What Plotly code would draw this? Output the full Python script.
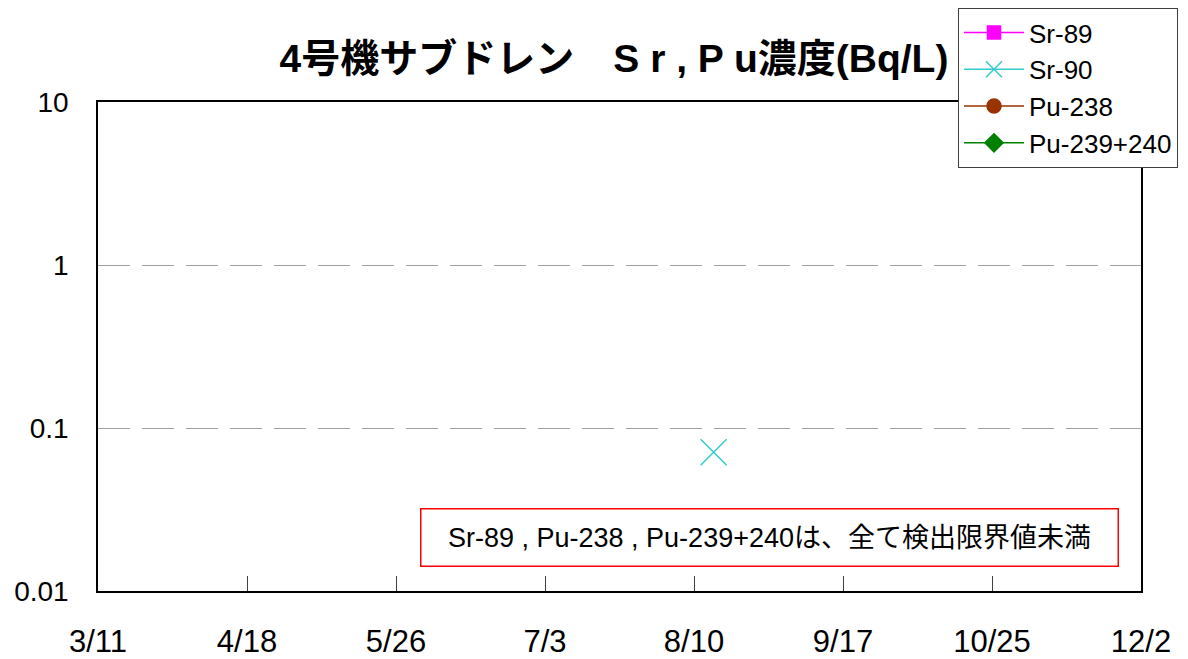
import plotly.graph_objects as go

# data (Bq/L); Sr-89 and Pu isotopes all below detection limit -> no points
series_names = ["Sr-89", "Sr-90", "Pu-238", "Pu-239+240"]
sr89_dates, sr89_vals = [None], [None]
sr90_dates, sr90_vals = ["2011-08-15"], [0.071]
pu238_dates, pu238_vals = [None], [None]
pu239_dates, pu239_vals = [None], [None]

tick_dates = ["2011-03-11", "2011-04-18", "2011-05-26", "2011-07-03",
              "2011-08-10", "2011-09-17", "2011-10-25", "2011-12-02"]
tick_text = ["3/11", "4/18", "5/26", "7/3", "8/10", "9/17", "10/25", "12/2"]
y_ticks = [10, 1, 0.1, 0.01]
y_text = ["10", "1", "0.1", "0.01"]

FONT = "Liberation Sans, Arial, sans-serif"
JP = "Liberation Sans, Noto Sans CJK JP, sans-serif"

styles = [
    dict(color="#FF00FF", symbol="square", size=13),
    dict(color="#33CCCC", symbol="x-thin", size=26),
    dict(color="#993300", symbol="circle", size=14),
    dict(color="#008000", symbol="diamond", size=14),
]
data = [(sr89_dates, sr89_vals), (sr90_dates, sr90_vals),
        (pu238_dates, pu238_vals), (pu239_dates, pu239_vals)]

fig = go.Figure()
for name, (xs, ys), st in zip(series_names, data, styles):
    fig.add_trace(go.Scatter(
        x=xs, y=ys, name=name, mode="lines+markers",
        line=dict(color=st["color"], width=1.5),
        marker=dict(symbol=st["symbol"], size=st["size"], color=st["color"],
                    line=dict(color=st["color"], width=1.5)),
    ))

# page body has an 8px margin, so the figure is 8px smaller than the window
fig.update_layout(
    width=1180, height=651,
    margin=dict(l=90, r=47, t=94, b=68, autoexpand=False),
    paper_bgcolor="white", plot_bgcolor="white",
    font=dict(family=FONT, size=24, color="black"),
    title=dict(text="<b>4号機サブドレン　S r , P u濃度(Bq/L)</b>",
               x=606/1180, xref="container", xanchor="center",
               y=1-50/651, yref="container", yanchor="middle",
               font=dict(family=JP, size=39, color="black")),
    legend=dict(x=950/1180, y=1, xref="container", yref="container",
                xanchor="left", yanchor="top",
                bordercolor="#404040", borderwidth=1, bgcolor="white",
                font=dict(family=FONT, size=26), tracegroupgap=0,
                itemwidth=60),
    showlegend=True,
)

fig.update_xaxes(
    type="date", range=[tick_dates[0], tick_dates[-1]],
    tickvals=tick_dates, ticktext=tick_text,
    ticks="inside", ticklen=15, tickcolor="#404040",
    showline=True, linecolor="black", linewidth=1.5, mirror=True,
    showgrid=False, zeroline=False,
    tickfont=dict(family=FONT, size=31), ticklabelstandoff=22,
)
fig.update_yaxes(
    type="log", range=[-2, 1],
    tickvals=y_ticks, ticktext=y_text, ticks="",
    showline=True, linecolor="black", linewidth=1.5, mirror=True,
    showgrid=True, gridcolor="#A0A0A0", griddash="32px,12px", gridwidth=1,
    zeroline=False,
    tickfont=dict(family=FONT, size=28), ticklabelstandoff=22,
)

fig.add_annotation(
    text="Sr-89 , Pu-238 , Pu-239+240は、全て検出限界値未満",
    xref="paper", yref="paper", x=(769-98)/1043, y=(591-537)/489,
    xanchor="center", yanchor="middle",
    showarrow=False, font=dict(family=JP, size=27, color="black"),
    bordercolor="#FF0000", borderwidth=1.5, borderpad=13, bgcolor="white",
    width=670,
)

fig.write_html("out.html")
